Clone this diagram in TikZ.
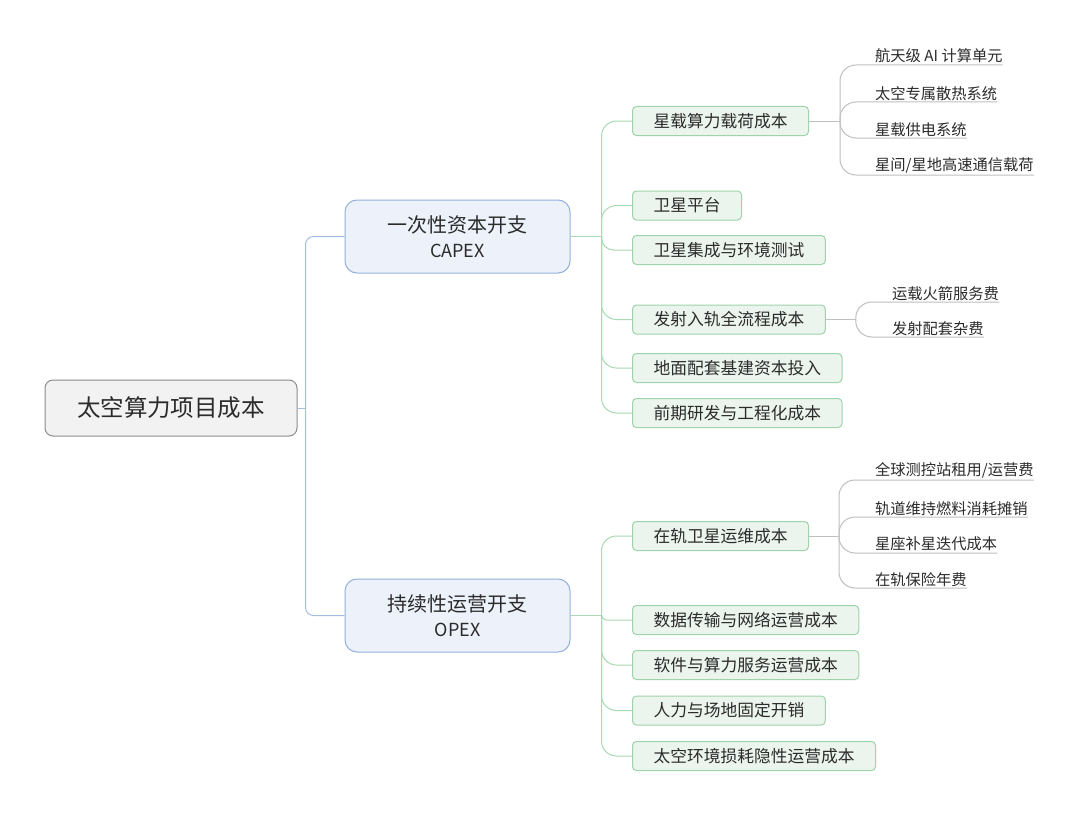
\documentclass[tikz,border=0pt]{standalone}
\usepackage{fontspec}
\setmainfont{Noto Sans CJK SC}
\usetikzlibrary{positioning,calc}

\definecolor{inkgray}{HTML}{2B2B2B}
\definecolor{rootfill}{HTML}{F2F2F2}
\definecolor{rootdraw}{HTML}{8C8C8C}
\definecolor{bluefill}{HTML}{EDF2FA}
\definecolor{bluedraw}{HTML}{93B1DC}
\definecolor{blueline}{HTML}{A4BEE2}
\definecolor{greenfill}{HTML}{EBF5ED}
\definecolor{greendraw}{HTML}{9FD3AB}
\definecolor{greenline}{HTML}{A9D9B5}
\definecolor{grayline}{HTML}{BFBFBF}

\begin{document}
\begin{tikzpicture}[
    x=1pt, y=-1pt,
    rootbox/.style={
        draw=rootdraw, fill=rootfill, line width=1pt, rounded corners=8pt,
        minimum width=252pt, minimum height=56pt,
        font=\fontsize{23.5}{28}\selectfont, text=inkgray
    },
    branch/.style={
        draw=bluedraw, fill=bluefill, line width=1pt, rounded corners=12pt,
        minimum width=225pt, minimum height=73pt, align=center,
        font=\fontsize{20}{25}\selectfont, text=inkgray
    },
    topic/.style={
        draw=greendraw, fill=greenfill, line width=1pt, rounded corners=4pt,
        minimum height=29pt, inner xsep=21pt, anchor=west,
        font=\fontsize{16.75}{20}\selectfont, text=inkgray
    },
    leaf/.style={anchor=south west, inner xsep=0pt, inner ysep=1.5pt,
        font=\fontsize{15.25}{18}\selectfont, text=inkgray},
    rootline/.style={draw=blueline, line width=1pt, rounded corners=8pt},
    topicline/.style={draw=greenline, line width=1pt, rounded corners=#1},
    topicline/.default=15pt,
    leafline/.style={draw=grayline, line width=1pt, rounded corners=#1},
    leafline/.default=16pt
]
    \fill[white] (0,0) rectangle (1080,816);
    \useasboundingbox (0,0) rectangle (1080,816);

    % Root and the two cost groups
    \node[rootbox] (root) at (171,408) {太空算力项目成本};
    \node[branch] (capex) at (457.5,236.5) {一次性资本开支\\\fontsize{18}{25}\selectfont CAPEX};
    \node[branch] (opex) at (457.5,615.5) {持续性运营开支\\\fontsize{18}{25}\selectfont OPEX};

    \coordinate (rj) at ($(root.east)+(8,0)$);
    \draw[rootline] (root.east) -- (rj);
    \draw[rootline] (rj) |- (capex.west);
    \draw[rootline] (rj) |- (opex.west);

    % CAPEX items
    \node[topic] (pay) at (632,121) {星载算力载荷成本};
    \node[topic] (plat) at (632,205.5) {卫星平台};
    \node[topic] (integ) at (632,250) {卫星集成与环境测试};
    \node[topic] (launch) at (632,319.5) {发射入轨全流程成本};
    \node[topic] (ground) at (632,368) {地面配套基建资本投入};
    \node[topic] (rd) at (632,413) {前期研发与工程化成本};

    \coordinate (cj) at ($(capex.east)+(31,0)$);
    \draw[topicline] (capex.east) -- (cj);
    \foreach \t/\r in {pay/15pt, plat/15pt, integ/12pt, launch/15pt, ground/15pt, rd/15pt}
        \draw[topicline=\r] (cj) |- (\t.west);

    % OPEX items
    \node[topic] (ops) at (632,536) {在轨卫星运维成本};
    \node[topic] (data) at (632,620) {数据传输与网络运营成本};
    \node[topic] (soft) at (632,665) {软件与算力服务运营成本};
    \node[topic] (staff) at (632,710.5) {人力与场地固定开销};
    \node[topic] (wear) at (632,756) {太空环境损耗隐性运营成本};

    \coordinate (oj) at ($(opex.east)+(31,0)$);
    \draw[topicline] (opex.east) -- (oj);
    \foreach \t/\r in {ops/15pt, data/5pt, soft/15pt, staff/15pt, wear/15pt}
        \draw[topicline=\r] (oj) |- (\t.west);

    % Payload breakdown
    \node[leaf] (a1) at (875,65) {航天级 AI 计算单元};
    \node[leaf] (a2) at (875,102) {太空专属散热系统};
    \node[leaf] (a3) at (875,138) {星载供电系统};
    \node[leaf] (a4) at (875,175) {星间/星地高速通信载荷};

    \coordinate (aj) at ($(pay.east)+(31,0)$);
    \draw[leafline] (pay.east) -- (aj);
    \foreach \l in {a1,a2,a3,a4}
        \draw[leafline] (aj) |- (\l.south east);

    % Launch breakdown
    \node[leaf] (b1) at (892,302) {运载火箭服务费};
    \node[leaf] (b2) at (892,337) {发射配套杂费};

    \coordinate (bj) at ($(launch.east)+(30,0)$);
    \draw[leafline] (launch.east) -- (bj);
    \foreach \l in {b1,b2}
        \draw[leafline] (bj) |- (\l.south east);

    % Operations breakdown
    \node[leaf] (c1) at (875,480) {全球测控站租用/运营费};
    \node[leaf] (c2) at (875,517) {轨道维持燃料消耗摊销};
    \node[leaf] (c3) at (875,553) {星座补星迭代成本};
    \node[leaf] (c4) at (875,588) {在轨保险年费};

    \coordinate (cjx) at ($(ops.east)+(30,0)$);
    \draw[leafline] (ops.east) -- (cjx);
    \foreach \l in {c1,c2,c3,c4}
        \draw[leafline] (cjx) |- (\l.south east);

\end{tikzpicture}
\end{document}
